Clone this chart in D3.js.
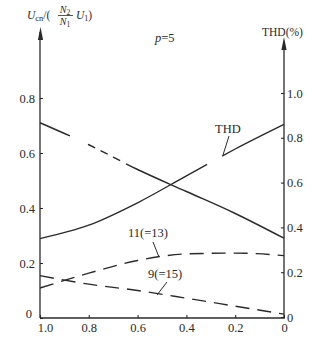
<!DOCTYPE html>
<html>
<head>
<meta charset="utf-8">
<script src="https://cdn.jsdelivr.net/npm/d3@7"></script>
<style>
  body { margin: 0; background: #fff; }
  text { font-family: "Liberation Serif", "DejaVu Serif", serif; fill: #2a2a2a; }
  .axis text { font-size: 12.5px; }
  .axis line { stroke: #2a2a2a; stroke-width: 1.1; }
</style>
</head>
<body>
<div id="chart"></div>
<script>
// x values (read right to left on the chart: 1.0 ... 0)
const xValues = [1.0, 0.8, 0.6, 0.4, 0.2, 0];
// fundamental U_cn (left scale), straight line
const fundamental = [0.71, 0.63, 0.54, 0.46, 0.38, 0.29];
// THD in % (right scale)
const thd = [0.35, 0.41, 0.51, 0.63, 0.75, 0.86];
// 11th (=13th) harmonic (left scale)
const h11 = [0.109, 0.163, 0.209, 0.233, 0.236, 0.227];
// 9th (=15th) harmonic (left scale)
const h9 = [0.154, 0.123, 0.100, 0.072, 0.043, 0.014];

const xTicks = [1.0, 0.8, 0.6, 0.4, 0.2, 0];
const leftTicks = [0, 0.2, 0.4, 0.6, 0.8];
const rightTicks = [0, 0.2, 0.4, 0.6, 0.8, 1.0];

const width = 325, height = 346;
const ink = '#2a2a2a';

const svg = d3.select('#chart').append('svg')
  .attr('width', width)
  .attr('height', height);

const x = d3.scaleLinear().domain([1.0, 0]).range([40, 284]);
const yL = d3.scaleLinear().domain([0, 0.8]).range([318, 98]);
const yR = d3.scaleLinear().domain([0, 1.0]).range([317, 93]);

const fmt = (d) => (d === 0 ? '0' : d3.format('.1f')(d));

/* axes: ticks point inward, domain lines drawn by hand */
svg.append('g')
  .attr('class', 'axis')
  .attr('transform', 'translate(40,0)')
  .call(d3.axisLeft(yL).tickValues(leftTicks).tickFormat(fmt)
    .tickSizeInner(-3).tickSizeOuter(0).tickPadding(5))
  .call((g) => g.select('.domain').remove())
  .call((g) => g.selectAll('.tick').filter((d) => d === 0).select('text')
    .attr('x', -8).attr('dy', '-0.05em'));

svg.append('g')
  .attr('class', 'axis')
  .attr('transform', 'translate(284,0)')
  .call(d3.axisRight(yR).tickValues(rightTicks).tickFormat(fmt)
    .tickSizeInner(-3).tickSizeOuter(0).tickPadding(3))
  .call((g) => g.select('.domain').remove());

svg.append('g')
  .attr('class', 'axis')
  .attr('transform', 'translate(0,318)')
  .call(d3.axisBottom(x).tickValues(xTicks).tickFormat(fmt)
    .tickSizeInner(-3).tickSizeOuter(0).tickPadding(5))
  .call((g) => g.select('.domain').remove())
  .call((g) => g.selectAll('.tick').filter((d) => d === 1).select('text').attr('x', 5));

svg.selectAll('.axis text').attr('font-family', null).attr('font-size', null);

/* axis lines with arrow heads */
const axisLine = (x1, y1, x2, y2) => svg.append('line')
  .attr('x1', x1).attr('y1', y1).attr('x2', x2).attr('y2', y2)
  .attr('stroke', ink).attr('stroke-width', 1.3);
const arrowHead = (cx, tip) => svg.append('path')
  .attr('d', `M${cx},${tip} L${cx - 2.6},${tip + 13} L${cx + 2.6},${tip + 13} Z`)
  .attr('fill', ink);

axisLine(40, 318, 40, 32);
arrowHead(40.5, 27);
axisLine(284, 317, 284, 42);
arrowHead(284, 37);
axisLine(40, 318, 285, 318);

/* curves */
const lineL = d3.line().x((d) => x(d[0])).y((d) => yL(d[1])).curve(d3.curveMonotoneX);
const lineR = d3.line().x((d) => x(d[0])).y((d) => yR(d[1])).curve(d3.curveMonotoneX);

const drawCurve = (gen, vals, dash) => svg.append('path')
  .datum(xValues.map((v, i) => [v, vals[i]]))
  .attr('d', gen)
  .attr('fill', 'none')
  .attr('stroke', ink)
  .attr('stroke-width', 1.4)
  .attr('stroke-dasharray', dash || null);

// length along a path at a given pixel x
const lengthAtX = (node, px) => {
  const total = node.getTotalLength();
  let lo = 0; let hi = total;
  for (let k = 0; k < 30; k++) {
    const mid = (lo + hi) / 2;
    if (node.getPointAtLength(mid).x < px) lo = mid; else hi = mid;
  }
  return lo;
};

// fundamental: broken in the middle like the printed figure
const fPath = drawCurve(lineL, fundamental);
{
  const n = fPath.node();
  const total = n.getTotalLength();
  const a = lengthAtX(n, 70); const b = lengthAtX(n, 88); const c = lengthAtX(n, 126);
  const parts = [a, b - a];
  let used = b;
  while (used + 14 < c) { parts.push(8, 6); used += 14; }
  parts.push(0, c - used, total - c + 5, 0);
  fPath.attr('stroke-dasharray', parts.join(','));
}

// THD: gap where the leader line meets it
const tPath = drawCurve(lineR, thd);
{
  const n = tPath.node();
  const total = n.getTotalLength();
  const a = lengthAtX(n, 207); const b = lengthAtX(n, 222);
  tPath.attr('stroke-dasharray', `${a},${b - a},${total - b + 5},0`);
}

drawCurve(lineL, h11, '14,8');
drawCurve(lineL, h9, '14,8');

/* curve labels with leader lines */
const label = (tx, ty, str) => svg.append('text')
  .attr('x', tx).attr('y', ty).attr('font-size', 12.5).text(str);
const leader = (x1, y1, x2, y2) => svg.append('line')
  .attr('x1', x1).attr('y1', y1).attr('x2', x2).attr('y2', y2)
  .attr('stroke', ink).attr('stroke-width', 1);

label(215, 133, 'THD');
leader(229, 136, 223, 155);
label(128, 237, '11(=13)');
leader(153, 242, 159, 257);
label(148, 278, '9(=15)');
leader(167, 282, 157, 295);

/* titles */
label(262, 36, 'THD(%)').attr('font-size', 11.5);

const p = svg.append('text').attr('x', 155).attr('y', 42).attr('font-size', 12.5);
p.append('tspan').attr('font-style', 'italic').text('p');
p.append('tspan').text('=5');

const t1 = svg.append('text').attr('x', 27).attr('y', 19).attr('font-size', 11.5);
t1.append('tspan').attr('font-style', 'italic').text('U');
t1.append('tspan').attr('font-size', 8.5).attr('dy', 2).text('cn');
t1.append('tspan').attr('dy', -2).text('/(');
svg.append('text').attr('x', 65).attr('y', 13).attr('font-size', 10)
  .attr('text-anchor', 'middle').attr('font-style', 'italic').text('N')
  .append('tspan').attr('font-style', 'normal').attr('font-size', 7.5).attr('dy', 1.5).text('2');
svg.append('line').attr('x1', 58).attr('x2', 73).attr('y1', 15.5).attr('y2', 15.5)
  .attr('stroke', ink).attr('stroke-width', 0.8);
svg.append('text').attr('x', 65).attr('y', 25).attr('font-size', 10)
  .attr('text-anchor', 'middle').attr('font-style', 'italic').text('N')
  .append('tspan').attr('font-style', 'normal').attr('font-size', 7.5).attr('dy', 1.5).text('1');
const t2 = svg.append('text').attr('x', 76).attr('y', 19).attr('font-size', 11.5);
t2.append('tspan').attr('font-style', 'italic').text('U');
t2.append('tspan').attr('font-size', 8).attr('dy', 2).text('1');
t2.append('tspan').attr('dy', -2).text(')');
</script>
</body>
</html>
